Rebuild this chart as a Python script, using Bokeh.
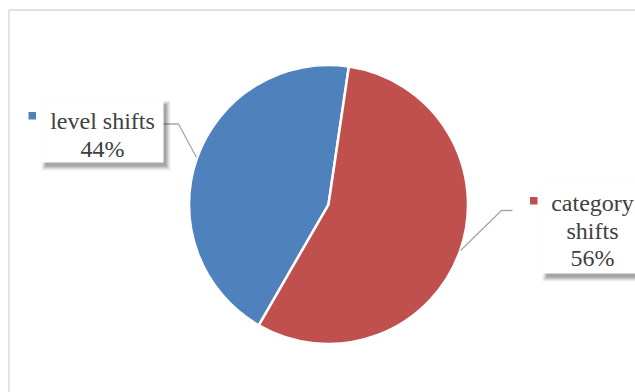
import math
from bokeh.plotting import figure
from bokeh.models import ColumnDataSource, Range1d
from bokeh.core.properties import value
from bokeh.embed import file_html
from bokeh.resources import INLINE

# ---- data ----
categories = ["level shifts", "category shifts"]
shares = [44, 56]
colors = ["#4F81BD", "#C0504D"]
label_lines = [["level shifts"], ["category", "shifts"]]

# ---- layout (screen px) ----
W, H = 635, 392
def sx(x):
    return x
def sy(y):
    return H - y

cx, cy, R = 328, 204, 139.5
start_deg = 81.6

total = sum(shares)
starts, ends = [], []
acc = math.radians(start_deg)
for s in shares:
    a = 2 * math.pi * s / total
    starts.append(acc)
    ends.append(acc + a)
    acc += a

p = figure(width=W, height=H, output_backend="svg", toolbar_location=None,
           x_range=Range1d(0, W), y_range=Range1d(0, H), min_border=0)
p.axis.visible = False
p.grid.visible = False
p.outline_line_color = None
p.background_fill_color = "white"
p.border_fill_color = "white"

# chart area border (cropped)
p.line([sx(8.5), sx(8.5)], [0, sy(9.5)], line_color="#D9D9D9", line_width=1.5)
p.line([sx(8.5), W], [sy(9.5), sy(9.5)], line_color="#D9D9D9", line_width=1.5)

src = ColumnDataSource(dict(x=[sx(cx)] * len(shares), y=[sy(cy)] * len(shares),
                            start=starts, end=ends, color=colors))
p.wedge(x="x", y="y", radius=R, start_angle="start", end_angle="end",
        fill_color="color", line_color="white", line_width=2.5, source=src)

# leader lines
p.multi_line(xs=[[sx(163), sx(178), sx(196)], [sx(512), sx(501), sx(460)]],
             ys=[[sy(123.5), sy(123.5), sy(157)], [sy(210), sy(210), sy(250)]],
             line_color="#A6A6A6", line_width=1.3)

# label boxes
boxes = [(41, 163, 100, 162), (542, 642, 182, 273)]
for (l, r, t, b) in boxes:
    for i, a in enumerate([0.06, 0.08, 0.10, 0.12, 0.16]):
        g = 4 - i
        p.quad(left=sx(l + 4 - g), right=sx(r + 3 + g), top=sy(t + 4 - g), bottom=sy(b + 4 + g),
               fill_color="#303030", fill_alpha=a, line_color=None)
    p.quad(left=sx(l), right=sx(r), top=sy(t), bottom=sy(b), fill_color="white", line_color=None)

# markers
markers = [(28, 35.5, 111.5, 119), (529.5, 537, 196.5, 204)]
for (l, r, t, b), c in zip(markers, colors):
    p.quad(left=sx(l), right=sx(r), top=sy(t), bottom=sy(b), fill_color=c, line_color=None)

# label texts
text_centers = [102, 592]
first_base = [120.5, 202.5]
steps = [28, 27.5]
tx, ty, tt = [], [], []
for lines, s, xc, yb, st in zip(label_lines, shares, text_centers, first_base, steps):
    allines = lines + [f"{s}%"]
    for k, ln in enumerate(allines):
        tx.append(sx(xc))
        ty.append(sy(yb + k * st))
        tt.append(ln)
p.text(x=tx, y=ty, text=tt, text_font=value("Liberation Serif"), text_font_size="24px",
       text_color="#404040", text_align="center", text_baseline="alphabetic")

open("out.html", "w").write(file_html(p, INLINE))
